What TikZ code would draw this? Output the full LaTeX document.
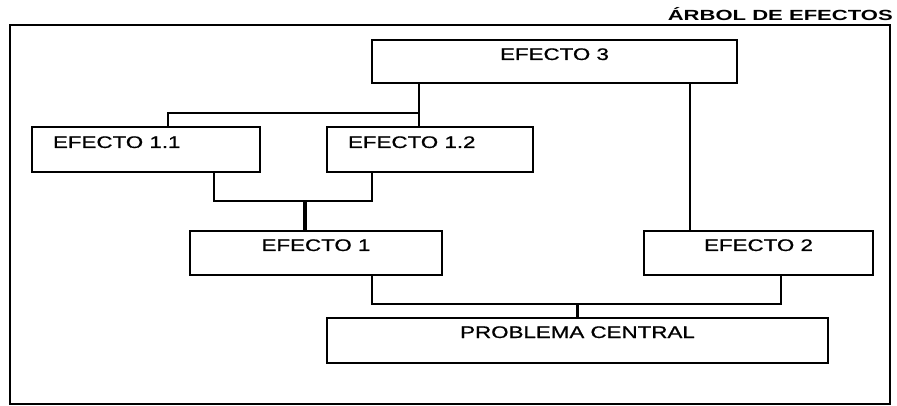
\documentclass[tikz,border=0pt]{standalone}
\usepackage{fontspec}
\newfontfamily\bxfont[FakeStretch=1.33,FakeBold=0.8]{Liberation Sans}
\newfontfamily\ttlfont[FakeStretch=1.5]{Liberation Sans}
\begin{document}
\begin{tikzpicture}[x=1pt,y=-1pt,
  bx/.style={draw=black,line width=2.5pt,rectangle,inner sep=0pt,outer sep=0pt},
  lbl/.style={inner sep=0pt,outer sep=0pt,font=\bxfont\fontsize{16.8}{20}\selectfont},
  conn/.style={draw=black,line width=2.3pt},
  thickconn/.style={draw=black,line width=3.5pt}]
\fill[white] (0,0) rectangle (897,406);
\useasboundingbox (0,0) rectangle (897,406);
% frame
\draw[line width=1.6pt] (10,25) rectangle (890,404);
\draw[line width=2.8pt] (10,25) -- (10,404);
% title
\node[inner sep=0pt,anchor=base east,font=\ttlfont\bfseries\fontsize{14.7}{18}\selectfont] (title) at (893,21) {ÁRBOL DE EFECTOS};
% boxes
\node[bx,minimum width=365pt,minimum height=43pt] (e3) at (554.5,61.5) {};
\node[bx,minimum width=228pt,minimum height=45pt] (e11) at (146,149.5) {};
\node[bx,minimum width=206pt,minimum height=45pt] (e12) at (430,149.5) {};
\node[bx,minimum width=252pt,minimum height=44pt] (e1) at (316,253) {};
\node[bx,minimum width=229pt,minimum height=44pt] (e2) at (758.5,253) {};
\node[bx,minimum width=501pt,minimum height=45pt] (pc) at (577.5,340.5) {};
% labels
\node[lbl,anchor=base] (e3t) at (554.5,60) {EFECTO 3};
\node[lbl,anchor=base west] (e11t) at (53,148) {EFECTO 1.1};
\node[lbl,anchor=base west] (e12t) at (348,148) {EFECTO 1.2};
\node[lbl,anchor=base] (e1t) at (316,251) {EFECTO 1};
\node[lbl,anchor=base] (e2t) at (758.5,251) {EFECTO 2};
\node[lbl,anchor=base] (pct) at (577.5,338) {PROBLEMA CENTRAL};
% connectors
\coordinate (j1) at (419,113);
\coordinate (j2) at (305,201);
\coordinate (j4) at (577.5,304);
\draw[conn] ([xshift=-135.5pt]e3.south) -- ([xshift=-11pt]e12.north);
\draw[conn] (j1) -| ([xshift=22pt]e11.north);
\draw[conn] ([xshift=135.5pt]e3.south) -- ([xshift=-68.5pt]e2.north);
\draw[conn] ([xshift=68pt]e11.south) |- (j2) -| ([xshift=-58pt]e12.south);
\draw[thickconn] (j2) -- ([xshift=-11pt]e1.north);
\draw[conn] ([xshift=56pt]e1.south) |- (j4) -| ([xshift=22.5pt]e2.south);
\draw[conn] (j4) -- (pc.north);
\end{tikzpicture}
\end{document}
